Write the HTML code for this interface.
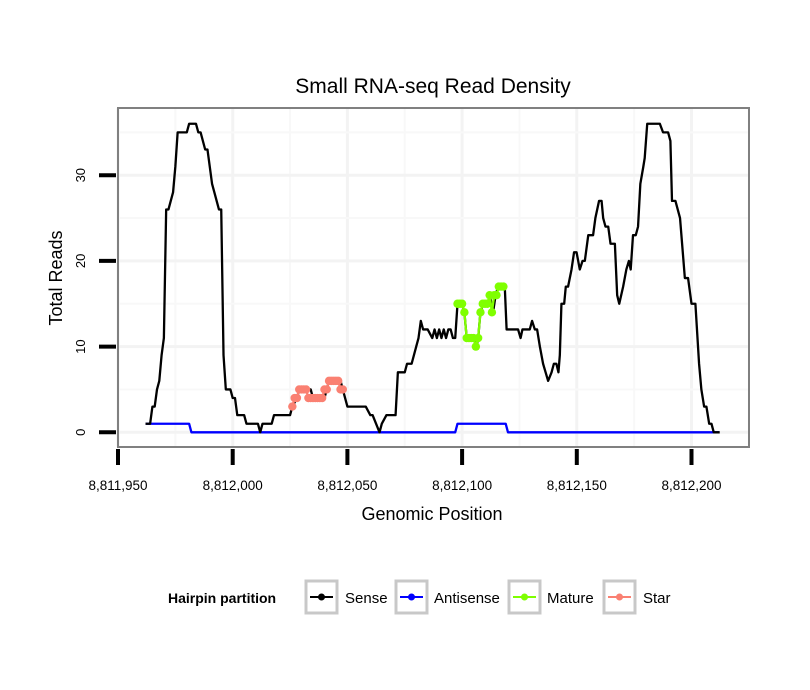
<!DOCTYPE html>
<html><head><meta charset="utf-8"><style>
html,body{margin:0;padding:0;background:#fff;}
svg{display:block;font-family:"Liberation Sans",Arial,sans-serif;}
</style></head><body>
<svg id="chart" width="810" height="690" viewBox="0 0 810 690" xmlns="http://www.w3.org/2000/svg">
<rect x="0" y="0" width="810" height="690" fill="#fff"/>
<text x="433" y="93" font-size="21" text-anchor="middle">Small RNA-seq Read Density</text>
<g id="grid"></g>
<g id="series"></g>
<rect x="118" y="108" width="631" height="339" fill="none" stroke="#808080" stroke-width="2"/>
<g id="axes"></g>
<text x="432" y="520" font-size="18" text-anchor="middle">Genomic Position</text>
<text transform="translate(62,278) rotate(-90)" font-size="18" text-anchor="middle">Total Reads</text>
<g>
<text x="168" y="603" font-size="14" font-weight="bold">Hairpin partition</text>
<g>
<rect x="306" y="581" width="31" height="32" fill="#fff" stroke="#c8c8c8" stroke-width="3"/>
<line x1="310" y1="597" x2="333" y2="597" stroke="#000" stroke-width="2"/><circle cx="321.5" cy="597" r="3.5" fill="#000"/>
<text x="345" y="603" font-size="15">Sense</text></g>
<g>
<rect x="396" y="581" width="31" height="32" fill="#fff" stroke="#c8c8c8" stroke-width="3"/>
<line x1="400" y1="597" x2="423" y2="597" stroke="#0000ff" stroke-width="2"/><circle cx="411.5" cy="597" r="3.5" fill="#0000ff"/>
<text x="434" y="603" font-size="15">Antisense</text></g>
<g>
<rect x="509" y="581" width="31" height="32" fill="#fff" stroke="#c8c8c8" stroke-width="3"/>
<line x1="513" y1="597" x2="536" y2="597" stroke="#7fff00" stroke-width="2"/><circle cx="524.5" cy="597" r="3.5" fill="#7fff00"/>
<text x="547" y="603" font-size="15">Mature</text></g>
<g>
<rect x="604" y="581" width="31" height="32" fill="#fff" stroke="#c8c8c8" stroke-width="3"/>
<line x1="608" y1="597" x2="631" y2="597" stroke="#fa8072" stroke-width="2"/><circle cx="619.5" cy="597" r="3.5" fill="#fa8072"/>
<text x="643" y="603" font-size="15">Star</text></g>
</g>
</svg>
<script>
const BASE = 8811950;
const xTicks = [8811950, 8812000, 8812050, 8812100, 8812150, 8812200];
const xTickLabels = ["8,811,950", "8,812,000", "8,812,050", "8,812,100", "8,812,150", "8,812,200"];
const yTicks = [0, 10, 20, 30];
const yTickLabels = ["0", "10", "20", "30"];
// sense: offsets from BASE and read counts
const senseOffsets = [12,14,15,16,17,18,19,20,21,22,24,25,26,30,31,34,35,36,38,39,41,42,44,45,46,47,49,50,51,52,55,56,61,62,63,67,68,75,76,78,79,84,85,90,91,92,97,98,99,100,108,110,111,114,115,117,118,121,122,125,126,128,130,131,132,133,135,137,138,139,140,141,142,143,144,145,146,147,148,150,151,152,155.6,156.3,157,158,159.2,161.4,162.1,163.5,164.6,165.7,168.6,169.4,174.4,175.5,176.3,179.5,180.5,181.7,182.7,183.9,185.3,186.4,187.5,189,190,191.1,192,192.6,193.3,194.5,195.2,196.2,197.7,198.8,199.9,201.3,202.5,203.5,205,207.1,208.1,209.7,210.8,211.5,212.5,213.7,214.7,216.6,217.6,218.5,220.2,221.6,222.7,223.5,224.5,225.7,226.7,227.7,229,229.6,230.7,236.2,237.6,239.8,240.8,241.5,243,245,247.1,248.5,250,251.7,253.3,254.3,255.5,256.5,257.7,258.7,259.7,262.3];
const senseValues  = [1,1,3,3,5,6,9,11,26,26,28,31,35,35,36,36,35,35,33,33,29,28,26,26,9,5,5,4,4,2,2,1,1,0,1,1,2,2,3,4,5,5,4,4,5,6,6,5,4,3,3,2,2,0,1,2,2,2,7,7,8,8,10,11,13,12,12,11,12,11,12,11,12,11,12,12,11,11,15,15,14,11,11,10,11,14,15,15,16,14,16,17,17,12,12,11,12,12,13,12,12,10,8,7,6,7,8,8,7,9,15,15,17,17,19,21,21,19,20,20,23,23,25,27,27,25,24,24,22,22,16,15,17,19,20,19,23,23,24,29,31,32,36,36,35,35,34,27,27,25,18,18,15,15,8,5,3,3,1,1,0,0];
const antisenseOffsets = [12,31,32,147,148,169,170,262];
const antisenseValues  = [1,1,0,0,1,1,0,0];
const matureOffsets = [148,149,150,151,152,153,154,155,156,157,158,159,160,161,162,163,164,165,166,167,168];
const matureValues  = [15,15,15,14,11,11,11,11,10,11,14,15,15,15,16,14,16,16,17,17,17];
const starOffsets = [76,77,78,79,80,81,82,83,84,85,86,87,88,89,90,91,92,93,94,95,96,97,98];
const starValues  = [3,4,4,5,5,5,5,4,4,4,4,4,4,4,5,5,6,6,6,6,6,5,5];

const NS = "http://www.w3.org/2000/svg";
const X0 = 118, XS = 114.7/50, Y0 = 432.3, YS = 8.57;
const xs = p => X0 + (p - BASE) * XS;
const xo = o => X0 + o * XS;
const ys = v => Y0 - v * YS;
function mk(tag, attrs, parent) {
  const e = document.createElementNS(NS, tag);
  for (const k in attrs) e.setAttribute(k, attrs[k]);
  parent.appendChild(e);
  return e;
}
const grid = document.getElementById('grid');
const axes = document.getElementById('axes');
const series = document.getElementById('series');
for (let i = 0; i < xTicks.length; i++) {
  const gx = xs(xTicks[i]);
  const l = mk('line', {x1: gx, x2: gx, y1: 108, y2: 447, stroke: '#f3f3f3', 'stroke-width': 3}, grid);
  
  
  const mx = xs(xTicks[i] + 25);
  if (mx < 749) {
    const m = mk('line', {x1: mx, x2: mx, y1: 108, y2: 447, stroke: '#f8f8f8', 'stroke-width': 2}, grid);
    
    
  }
}
for (let i = 0; i < yTicks.length; i++) {
  const gy = ys(yTicks[i]);
  const l = mk('line', {x1: 118, x2: 749, y1: gy, y2: gy, stroke: '#f3f3f3', 'stroke-width': 3}, grid);
  
  
  const my = ys(yTicks[i] + 5);
  if (my > 108) {
    const m = mk('line', {x1: 118, x2: 749, y1: my, y2: my, stroke: '#f8f8f8', 'stroke-width': 2}, grid);
    
    
  }
}
for (let i = 0; i < xTicks.length; i++) {
  const tx = xs(xTicks[i]);
  const t = mk('line', {x1: tx, x2: tx, y1: 449, y2: 465, stroke: '#000', 'stroke-width': 4}, axes);
  
  
  const lb = mk('text', {x: tx, y: 490, 'font-size': 13.5, 'text-anchor': 'middle'}, axes);
  lb.textContent = xTickLabels[i];
  
  
}
for (let i = 0; i < yTicks.length; i++) {
  const ty = ys(yTicks[i]);
  const t = mk('line', {x1: 99, x2: 116, y1: ty, y2: ty, stroke: '#000', 'stroke-width': 4}, axes);
  
  
  const lb = mk('text', {transform: 'translate(85,' + ty + ') rotate(-90)', 'font-size': 13, 'text-anchor': 'middle'}, axes);
  lb.textContent = yTickLabels[i];
  
  
}
function line(offs, vals, color, name) {
  const pts = offs.map((o, i) => xo(o).toFixed(2) + ',' + ys(vals[i]).toFixed(2)).join(' ');
  const pl = mk('polyline', {points: pts, fill: 'none', stroke: color, 'stroke-width': 2.3, 'stroke-linejoin': 'round'}, series);
  
  
}
function dots(offs, vals, color, name) {
  for (let i = 0; i < offs.length; i++) {
    const c = mk('circle', {cx: xo(offs[i]), cy: ys(vals[i]), r: 4.2, fill: color}, series);
    
    
  }
}
line(antisenseOffsets, antisenseValues, '#0000ff', 'antisense-line');
line(senseOffsets, senseValues, '#000000', 'sense-line');
line(starOffsets, starValues, '#fa8072', 'star-line');
dots(starOffsets, starValues, '#fa8072', 'star-point');
line(matureOffsets, matureValues, '#7fff00', 'mature-line');
dots(matureOffsets, matureValues, '#7fff00', 'mature-point');
</script>
</body></html>
